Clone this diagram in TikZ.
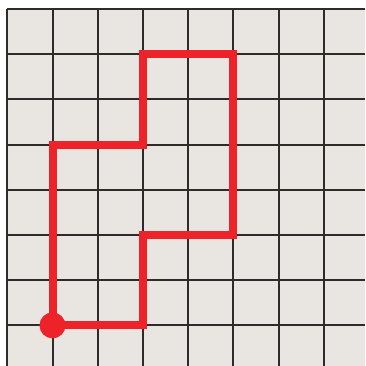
\documentclass[tikz,border=0pt]{standalone}
\definecolor{paper}{HTML}{E9E5E0}
\definecolor{gridline}{HTML}{2E2B2A}
\definecolor{pathred}{HTML}{EE2229}
\tikzset{
  gridstyle/.style={draw=gridline, line width=2pt},
  routestyle/.style={draw=pathred, line width=8pt, miter limit=10},
  dotstyle/.style={fill=pathred}
}
\begin{document}
\begin{tikzpicture}[x=1pt,y=-1pt]
\useasboundingbox (0,0) rectangle (365,366);
\fill[paper] (7.3,9) rectangle (365,366);
\foreach \i in {0,...,7} {
  \draw[gridstyle] ({7.3+45.2*\i},9) -- ({7.3+45.2*\i},366);
  \draw[gridstyle] (7.3,{9+45.2*\i}) -- (365,{9+45.2*\i});
}
% route corners (grid column i, row j)
\coordinate (p0) at ({7.3+45.2*1},{9+45.2*7});
\coordinate (p1) at ({7.3+45.2*3},{9+45.2*7});
\coordinate (p2) at ({7.3+45.2*3},{9+45.2*5});
\coordinate (p3) at ({7.3+45.2*5},{9+45.2*5});
\coordinate (p4) at ({7.3+45.2*5},{9+45.2*1});
\coordinate (p5) at ({7.3+45.2*3},{9+45.2*1});
\coordinate (p6) at ({7.3+45.2*3},{9+45.2*3});
\coordinate (p7) at ({7.3+45.2*1},{9+45.2*3});
\draw[routestyle] (p0) -- (p1) -- (p2) -- (p3) -- (p4) -- (p5) -- (p6) -- (p7) -- cycle;
\fill[dotstyle] (p0) circle (13);
\end{tikzpicture}
\end{document}
